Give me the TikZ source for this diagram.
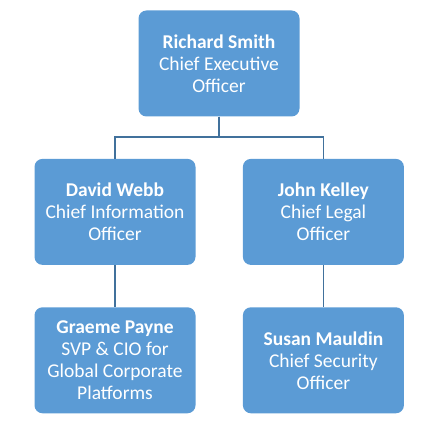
\documentclass[tikz,border=0pt]{standalone}
\usepackage{fontspec}
\setmainfont{Carlito}
\usepackage{tikz}
\usetikzlibrary{positioning}
\definecolor{orgblue}{RGB}{91,155,213}
\definecolor{orgline}{RGB}{65,113,156}

\begin{document}
\begin{tikzpicture}[x=1pt,y=1pt,node distance=42pt and 47pt,
 person/.style={fill=orgblue,draw=none,rounded corners=8pt,minimum width=161pt,minimum height=106pt,
   inner sep=0pt,align=center,text=white,font=\fontsize{19.5}{22}\selectfont},
 conn/.style={draw=orgline,line width=1.8pt}]
\useasboundingbox (0,0) rectangle (445,-427);
\node[person] (ceo) at (219,-63.5) {\textbf{Richard Smith}\\Chief Executive\\Officer};
\node[person,below=42pt of ceo,xshift=-104pt] (cio) {\textbf{David Webb}\\Chief Information\\Officer};
\node[person,right=of cio] (clo) {\textbf{John Kelley}\\Chief Legal\\Officer};
\node[person,below=of cio] (gp) {\textbf{Graeme Payne}\\SVP \& CIO for\\Global Corporate\\Platforms};
\node[person,below=of clo] (cso) {\textbf{Susan Mauldin}\\Chief Security\\Officer};
\draw[conn] (ceo.south) -- ++(0,-20pt) -| (cio.north);
\draw[conn] (ceo.south) -- ++(0,-20pt) -| (clo.north);
\draw[conn] (cio) -- (gp);
\draw[conn] (clo) -- (cso);
\end{tikzpicture}
\end{document}
